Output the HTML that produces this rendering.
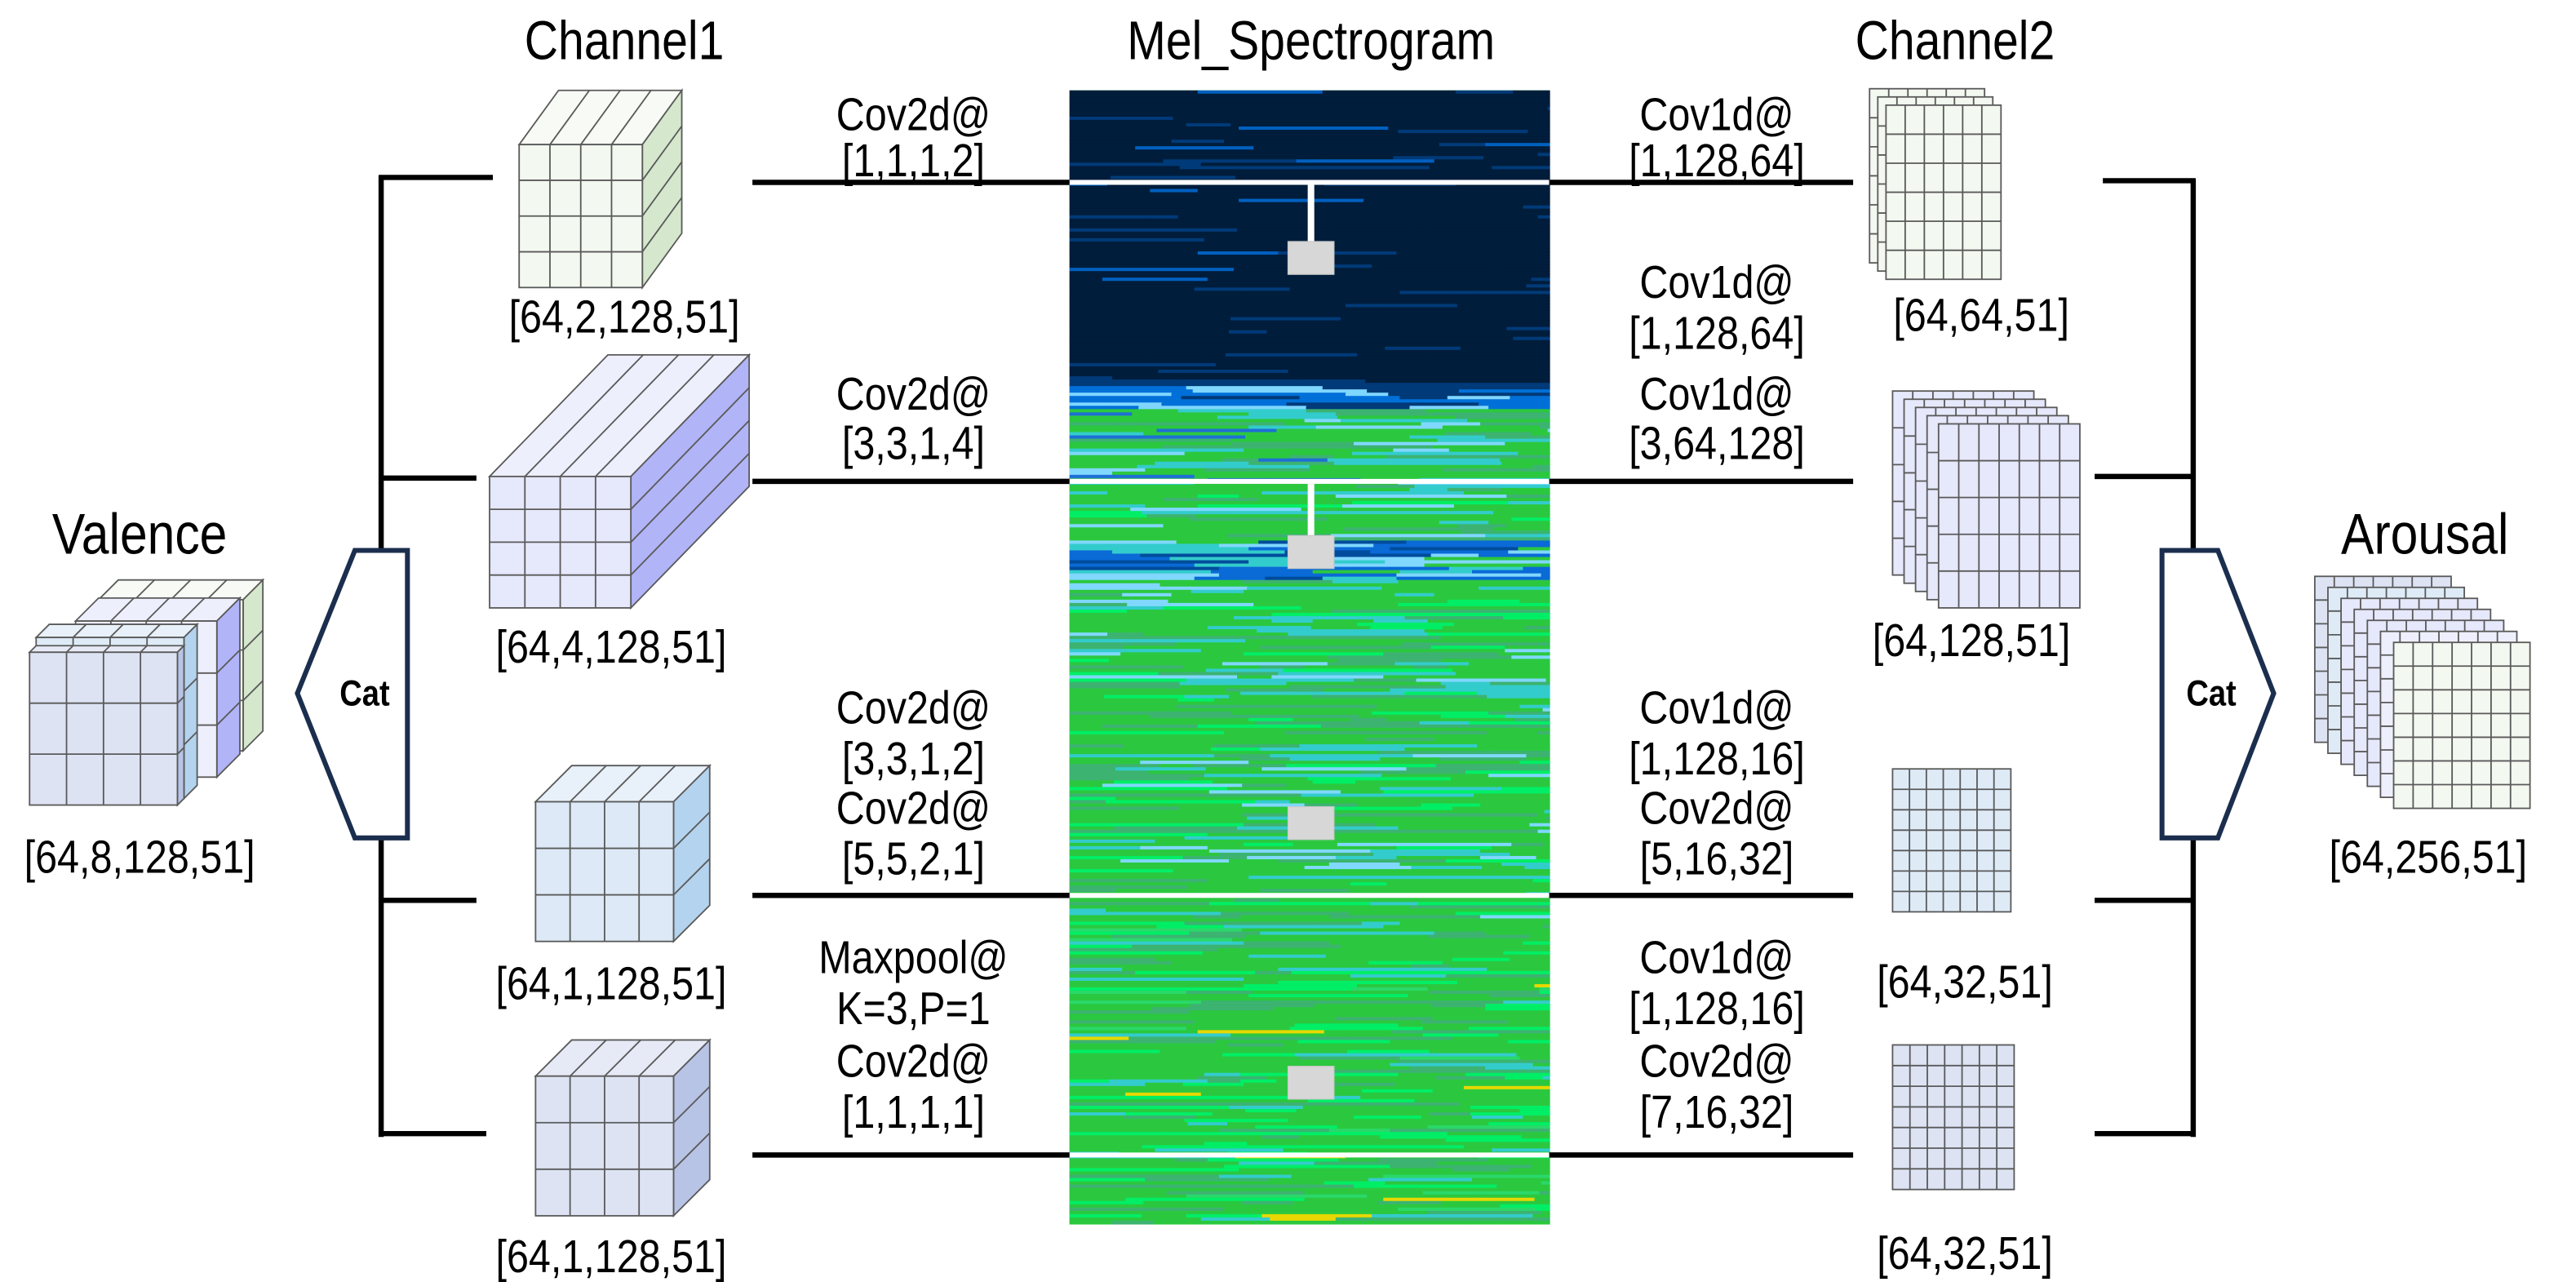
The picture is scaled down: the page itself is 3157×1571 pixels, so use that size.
<!DOCTYPE html>
<html><head><meta charset="utf-8"><style>
html,body{margin:0;padding:0;background:#fff;}
svg{display:block;}
text{font-family:"Liberation Sans",Arial,sans-serif;fill:#000;}
</style></head><body>
<svg id="root" width="3157" height="1571" viewBox="0 0 1568 780.3" preserveAspectRatio="none" xmlns="http://www.w3.org/2000/svg">
<g id="spec"></g>
<g id="shapes"></g>
<g id="labels"></g>
</svg>
<script>
const NS="http://www.w3.org/2000/svg";
const spec=document.getElementById('spec');
const shapes=document.getElementById('shapes');
const labels=document.getElementById('labels');
function mk(tag,attrs,parent){const e=document.createElementNS(NS,tag);for(const k in attrs)e.setAttribute(k,attrs[k]);parent.appendChild(e);return e;}

// ---------- spectrogram texture (deterministic) ----------
let seed=12345;function rnd(){seed=(seed*1103515245+12345)%2147483648;return seed/2147483648;}
const SX=651,SW=292,SY=55,SH=690;
mk('rect',{x:SX,y:SY,width:SW,height:SH,fill:'#2bc83f'},spec);
function pick(y){
  const r=rnd();
  if(y<232){ if(r<0.88)return '#001d3b'; if(r<0.97)return '#003a78'; return '#0060c0';}
  if(y<248){ if(r<0.4)return '#003a78'; if(r<0.7)return '#0070d8'; return '#7fd6ff';}
  if(y<300){ if(r<0.45)return '#2bc83f'; if(r<0.68)return '#3cb371'; if(r<0.84)return '#33cccc'; if(r<0.94)return '#80d8ff'; return '#1e6fd6';}
  if(y>=328&&y<352){ if(r<0.35)return '#0a6ad6'; if(r<0.55)return '#80d8ff'; if(r<0.75)return '#33cccc'; if(r<0.85)return '#004c9c'; return '#2bc83f';}
  if(y<420){ if(r<0.5)return '#2bc83f'; if(r<0.72)return '#3cb371'; if(r<0.84)return '#33cccc'; if(r<0.92)return '#80d8ff'; return '#00ee66';}
  if(y<560){ if(r<0.6)return '#2bc83f'; if(r<0.78)return '#3cb371'; if(r<0.86)return '#33cccc'; if(r<0.96)return '#00ee66'; return '#80d8ff';}
  if(r<0.6)return '#2bc83f'; if(r<0.76)return '#3cb371'; if(r<0.9)return '#00ee66'; if(r<0.96)return '#33cccc'; if(r<0.985)return '#2ad86a'; return '#e6d800';
}
for(let y=SY;y<SY+SH;y+=2){
  let x=SX;
  while(x<SX+SW){
    const w=Math.min(SX+SW-x,20+Math.floor(rnd()*90));
    mk('rect',{x:x,y:y,width:w+0.5,height:2.3,fill:pick(y)},spec);
    x+=w;
  }
}
const splitY=[111,293,545,703];
const sqY=[157,336,501,659];
splitY.forEach((y,i)=>{
  const l=mk('rect',{x:SX,y:y-1.5,width:SW,height:3,fill:'#fff'},shapes);
  
  
  const s=mk('rect',{x:796,y:y,width:4,height:sqY[i]-10-y,fill:'#fff'},shapes);
  
  
  const q=mk('rect',{x:784,y:sqY[i]-10,width:28,height:20,fill:'#d7d7d7',stroke:'#c8c8c8','stroke-width':0.6},shapes);
  
  
});

function line(x1,y1,x2,y2,name,w,c){const e=mk('line',{x1,y1,x2,y2,stroke:c||'#000','stroke-width':w||3.2},shapes);
  
  }
splitY.forEach(y=>{line(458,y,651,y,'left-connector');line(943,y,1128,y,'right-connector');});
line(232,107,232,336,'left-bracket');line(232,509,232,692,'left-bracket');
[[108,300],[291,290],[548,290],[690,296]].forEach(([y,x])=>line(230.5,y,x,y,'left-bracket-tick'));
line(1335,109,1335,336,'right-bracket');line(1335,509,1335,692,'right-bracket');
[[110,1280],[290,1275],[548,1275],[690,1275]].forEach(([y,x])=>line(x,y,1336.5,y,'right-bracket-tick'));

const c1=mk('polygon',{points:'216,335 248,335 248,510 216,510 181,422',fill:'#fff',stroke:'#1b2e4e','stroke-width':3},shapes);


const c2=mk('polygon',{points:'1316,335 1350,335 1384,422 1350,510 1316,510',fill:'#fff',stroke:'#1b2e4e','stroke-width':3},shapes);



const ST='#5a5a5a';
function cube(name,x,y,w,h,dx,dy,cols,rows,front,top,side){
  const g=mk('g',{},shapes);
  
  
  const a={stroke:ST,'stroke-width':0.9};
  mk('polygon',Object.assign({points:`${x},${y} ${x+w},${y} ${x+w+dx},${y+dy} ${x+dx},${y+dy}`,fill:top},a),g);
  mk('polygon',Object.assign({points:`${x+w},${y} ${x+w+dx},${y+dy} ${x+w+dx},${y+h+dy} ${x+w},${y+h}`,fill:side},a),g);
  mk('rect',Object.assign({x:x,y:y,width:w,height:h,fill:front},a),g);
  for(let i=1;i<cols;i++){const xx=x+w*i/cols;mk('line',Object.assign({x1:xx,y1:y,x2:xx,y2:y+h},a),g);mk('line',Object.assign({x1:xx,y1:y,x2:xx+dx,y2:y+dy},a),g);}
  for(let j=1;j<rows;j++){const yy=y+h*j/rows;mk('line',Object.assign({x1:x,y1:yy,x2:x+w,y2:yy},a),g);mk('line',Object.assign({x1:x+w,y1:yy,x2:x+w+dx,y2:yy+dy},a),g);}
}
function sheet(g,x,y,w,h,cols,rows,fill){
  const a={stroke:ST,'stroke-width':0.9};
  mk('rect',Object.assign({x,y,width:w,height:h,fill},a),g);
  for(let i=1;i<cols;i++){const xx=x+w*i/cols;mk('line',Object.assign({x1:xx,y1:y,x2:xx,y2:y+h},a),g);}
  for(let j=1;j<rows;j++){const yy=y+h*j/rows;mk('line',Object.assign({x1:x,y1:yy,x2:x+w,y2:yy},a),g);}
}
function stack(name,x,y,w,h,cols,rows,n,dx,dy,fills){
  const g=mk('g',{},shapes);
  
  
  for(let k=0;k<n;k++){sheet(g,x-(n-1-k)*dx,y-(n-1-k)*dy,w,h,cols,rows,fills[k]||fills[fills.length-1]);}
}
cube('channel1-cube-1',316,88,75,87,24,-33,4,4,'#f3f8f0','#f7faf5','#d5e8cd');
cube('channel1-cube-2',298,290,86,80,72,-74,4,4,'#e6e8fb','#eeeffc','#b1b4f7');
cube('channel1-cube-3',326,488,84,85,22,-22,4,3,'#dde9f6','#e8f0f9','#b4d3ee');
cube('channel1-cube-4',326,655,84,85,22,-22,4,3,'#dde3f3','#e6eaf6','#b8c4e6');
cube('valence-layer-green',60,365,88,92,12,-12,4,3,'#f3f8f0','#f7faf5','#d5e8cd');
cube('valence-layer-purple',46,378,86,95,14,-14,4,3,'#eeeffc','#eeeffc','#b1b4f7');
cube('valence-layer-blue',22,388,90,98,8,-8,4,3,'#deebf7','#e8f0f9','#b4d3ee');
cube('valence-layer-front',18,397,90,93,4,-4,4,3,'#dde3f3','#e6eaf6','#b8c4e6');
stack('channel2-stack-1',1148,64,70,106,6,6,3,5,5,['#f3f8f0']);
stack('channel2-stack-2',1180,258,86,112,7,5,5,7,5,['#e6e8fb']);
stack('channel2-stack-3',1152,468,72,87,7,7,1,0,0,['#deebf7']);
stack('channel2-stack-4',1152,636,74,88,7,7,1,0,0,['#dde3f3']);
stack('arousal-stack',1457,391,83,101,7,7,7,8,6.7,['#dde3f3','#deebf7','#e6e8fb','#e6e8fb','#e6e8fb','#eeeffc','#f3f8f0']);

function txt(s,x,y,size,name,bold,sx){const e=mk('text',{x:x/(sx||1),y,'font-size':size,'text-anchor':'middle','dominant-baseline':'central'},labels);
  if(sx)e.setAttribute('transform','scale('+sx+',1)');
  if(bold)e.setAttribute('font-weight','bold');
  e.textContent=s;
  
  }
const NX=0.86;
txt('Channel1',380,25,33,'channel1-title',false,NX);
txt('Mel_Spectrogram',798,25,33,'spectrogram-title',false,NX);
txt('Channel2',1190,25,33,'channel2-title',false,NX);
txt('Valence',85,325,35,'valence-title',false,NX);
txt('Arousal',1476,325,35,'arousal-title',false,NX);
txt('Cat',222,422,22,'cat-label-left',true,NX);
txt('Cat',1346,422,22,'cat-label-right',true,NX);
const SS=28;
txt('[64,2,128,51]',380,193,SS,'shape-label',false,NX);
txt('[64,4,128,51]',372,394,SS,'shape-label',false,NX);
txt('[64,1,128,51]',372,599,SS,'shape-label',false,NX);
txt('[64,1,128,51]',372,765,SS,'shape-label',false,NX);
txt('[64,8,128,51]',85,522,SS,'valence-shape-label',false,NX);
txt('[64,64,51]',1206,192,SS,'shape-label',false,NX);
txt('[64,128,51]',1200,390,SS,'shape-label',false,NX);
txt('[64,32,51]',1196,598,SS,'shape-label',false,NX);
txt('[64,32,51]',1196,763,SS,'shape-label',false,NX);
txt('[64,256,51]',1478,522,SS,'arousal-shape-label',false,NX);
const L=[['Cov2d@',70],['[1,1,1,2]',98],['Cov2d@',240],['[3,3,1,4]',270],['Cov2d@',431],['[3,3,1,2]',462],['Cov2d@',492],['[5,5,2,1]',523],['Maxpool@',583],['K=3,P=1',614],['Cov2d@',646],['[1,1,1,1]',677]];
L.forEach(([s,y])=>txt(s,556,y,SS,'left-op-label',false,NX));
const R=[['Cov1d@',70],['[1,128,64]',98],['Cov1d@',172],['[1,128,64]',203],['Cov1d@',240],['[3,64,128]',270],['Cov1d@',431],['[1,128,16]',462],['Cov2d@',492],['[5,16,32]',523],['Cov1d@',583],['[1,128,16]',614],['Cov2d@',646],['[7,16,32]',677]];
R.forEach(([s,y])=>txt(s,1045,y,SS,'right-op-label',false,NX));
</script>
</body></html>
